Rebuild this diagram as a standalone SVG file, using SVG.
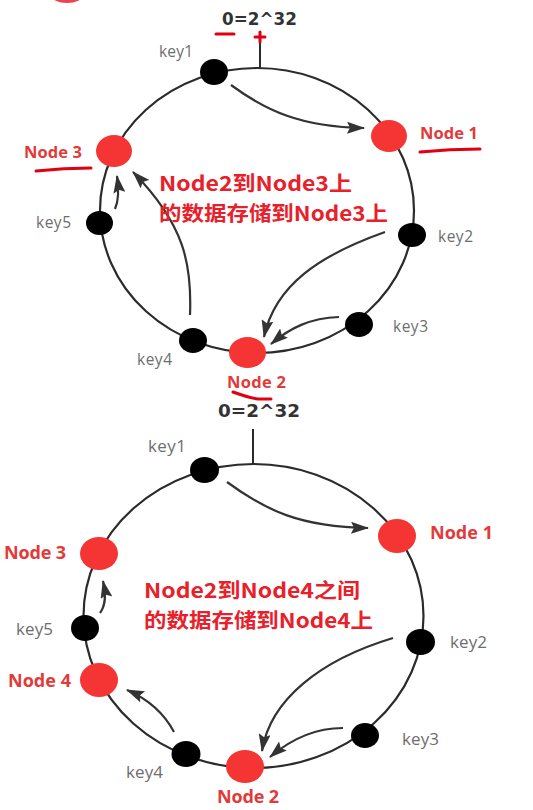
<svg xmlns="http://www.w3.org/2000/svg" width="533" height="810" viewBox="0 0 533 810">
<defs>
<style>
.ring{fill:none;stroke:#2b2b2b;stroke-width:2.2}
.tick{stroke:#2b2b2b;stroke-width:2}
.key{fill:#000}
.node{fill:#f53434}
.klab{font-family:"Open Sans","Liberation Sans",sans-serif;fill:#6e6e6e}
.nlab{font-family:"Open Sans","Liberation Sans",sans-serif;font-weight:bold;fill:#e23a3a}
.top{font-family:"DejaVu Sans","Liberation Sans",sans-serif;font-weight:bold;fill:#333}
.cn{font-family:"Noto Sans CJK SC","Noto Sans",sans-serif;font-weight:bold;fill:#e8202a;font-size:20.5px}
.arr{fill:none;stroke:#333;stroke-width:2.2;marker-end:url(#ah)}
.mark{fill:none;stroke:#e00010;stroke-width:3;stroke-linecap:round}
</style>
<marker id="ah" viewBox="0 0 18 12" refX="17" refY="6" markerWidth="18" markerHeight="12" markerUnits="userSpaceOnUse" orient="auto">
<path d="M0,0 L18,6 L0,12 L3,6 z" fill="#333"/>
</marker>
</defs>
<rect width="533" height="810" fill="#fff"/>
<ellipse cx="67" cy="-5" rx="16" ry="8" fill="#f04050"/>

<!-- Diagram 1 -->
<g id="ring1">
<ellipse class="ring" cx="257" cy="210.5" rx="157" ry="142.5"/>
<line class="tick" x1="260" y1="42" x2="260" y2="68"/>
<text class="top" x="222" y="25" font-size="16.8" textLength="75" lengthAdjust="spacing">0=2^32</text>
</g>
<g id="connectors1">
<path class="arr" d="M231,85 C265,110 300,127 364,128"/>
<path class="arr" d="M385,232 C320,255 275,285 264,337"/>
<path class="arr" d="M339,317 C310,318 290,328 271,344"/>
<path class="arr" d="M190,315 C192,265 185,225 133,172"/>
<path class="arr" d="M115,209 C119,200 119,190 117,176"/>
</g>
<g id="d1-key1"><ellipse class="key" cx="214" cy="72" rx="14" ry="13"/><text class="klab" x="159" y="57" font-size="15.5" textLength="34" lengthAdjust="spacing">key1</text></g>
<g id="d1-node1"><ellipse class="node" cx="389" cy="136" rx="18" ry="16"/><text class="nlab" x="420" y="139" font-size="16.5" textLength="58" lengthAdjust="spacing">Node 1</text></g>
<g id="d1-node3"><ellipse class="node" cx="114" cy="151" rx="18" ry="16"/><text class="nlab" x="24" y="158" font-size="16.5" textLength="58" lengthAdjust="spacing">Node 3</text></g>
<g id="d1-key5"><ellipse class="key" cx="99.5" cy="223" rx="13.5" ry="12"/><text class="klab" x="36" y="228" font-size="15.5" textLength="35" lengthAdjust="spacing">key5</text></g>
<g id="d1-key2"><ellipse class="key" cx="412" cy="235" rx="14" ry="12"/><text class="klab" x="438" y="242" font-size="15.5" textLength="35" lengthAdjust="spacing">key2</text></g>
<g id="d1-key3"><ellipse class="key" cx="359" cy="324.5" rx="14" ry="12.5"/><text class="klab" x="393" y="332" font-size="15.5" textLength="35" lengthAdjust="spacing">key3</text></g>
<g id="d1-key4"><ellipse class="key" cx="193" cy="340.5" rx="14" ry="12.5"/><text class="klab" x="137" y="365" font-size="15.5" textLength="35" lengthAdjust="spacing">key4</text></g>
<g id="d1-node2"><ellipse class="node" cx="247.5" cy="352.5" rx="18.5" ry="15.5"/><text class="nlab" x="227" y="388" font-size="16.5" textLength="59" lengthAdjust="spacing">Node 2</text></g>
<g id="d1-note">
<text class="cn" x="159" y="191" textLength="193" lengthAdjust="spacingAndGlyphs">Node2到Node3上</text>
<text class="cn" x="159" y="221" textLength="229" lengthAdjust="spacingAndGlyphs">的数据存储到Node3上</text>
</g>
<g id="marks">
<path class="mark" d="M216,34 L234,34"/>
<path class="mark" d="M255,37 L265,37 M260,32 L260,42" stroke-width="2.5"/>
<path class="mark" d="M420,152 Q450,149 480,149"/>
<path class="mark" d="M36,171 Q64,168 91,168"/>
<path class="mark" d="M233,392 Q250,398 258,399 L271,399"/>
</g>

<!-- Diagram 2 -->
<g id="ring2">
<ellipse class="ring" cx="253.5" cy="616" rx="170" ry="152"/>
<line class="tick" x1="253" y1="429" x2="253" y2="464"/>
<text class="top" x="218" y="417" font-size="18.4" textLength="82" lengthAdjust="spacing">0=2^32</text>
</g>
<g id="connectors2">
<path class="arr" d="M227,482 C265,510 300,527 368,528"/>
<path class="arr" d="M393,638 C320,660 270,700 262,751"/>
<path class="arr" d="M343,728 C315,728 290,740 270,757"/>
<path class="arr" d="M174,732 C165,715 150,700 127,690"/>
<path class="arr" d="M100,613 C106,605 106,595 103,581"/>
</g>
<g id="d2-key1"><ellipse class="key" cx="204.5" cy="470" rx="14.5" ry="13"/><text class="klab" x="148" y="452" font-size="17" textLength="38" lengthAdjust="spacing">key1</text></g>
<g id="d2-node1"><ellipse class="node" cx="397" cy="536" rx="19" ry="17"/><text class="nlab" x="430" y="539" font-size="18" textLength="63" lengthAdjust="spacing">Node 1</text></g>
<g id="d2-node3"><ellipse class="node" cx="99" cy="553.5" rx="19" ry="16.5"/><text class="nlab" x="4" y="559" font-size="18" textLength="62" lengthAdjust="spacing">Node 3</text></g>
<g id="d2-key5"><ellipse class="key" cx="85" cy="628" rx="14" ry="13"/><text class="klab" x="16" y="635" font-size="17" textLength="37" lengthAdjust="spacing">key5</text></g>
<g id="d2-node4"><ellipse class="node" cx="99" cy="680" rx="19" ry="17"/><text class="nlab" x="8" y="687" font-size="18" textLength="63" lengthAdjust="spacing">Node 4</text></g>
<g id="d2-key2"><ellipse class="key" cx="420.5" cy="642" rx="14.5" ry="13"/><text class="klab" x="450" y="648" font-size="17" textLength="37" lengthAdjust="spacing">key2</text></g>
<g id="d2-key3"><ellipse class="key" cx="365" cy="735.5" rx="14" ry="12.5"/><text class="klab" x="402" y="745" font-size="17" textLength="37" lengthAdjust="spacing">key3</text></g>
<g id="d2-key4"><ellipse class="key" cx="186" cy="754" rx="14.5" ry="13"/><text class="klab" x="126" y="778" font-size="17" textLength="37" lengthAdjust="spacing">key4</text></g>
<g id="d2-node2"><ellipse class="node" cx="245" cy="766.5" rx="19" ry="16.5"/><text class="nlab" x="217" y="803" font-size="18" textLength="62" lengthAdjust="spacing">Node 2</text></g>
<g id="d2-note">
<text class="cn" x="144" y="598" textLength="216" lengthAdjust="spacingAndGlyphs">Node2到Node4之间</text>
<text class="cn" x="144" y="628" textLength="229" lengthAdjust="spacingAndGlyphs">的数据存储到Node4上</text>
</g>
</svg>
